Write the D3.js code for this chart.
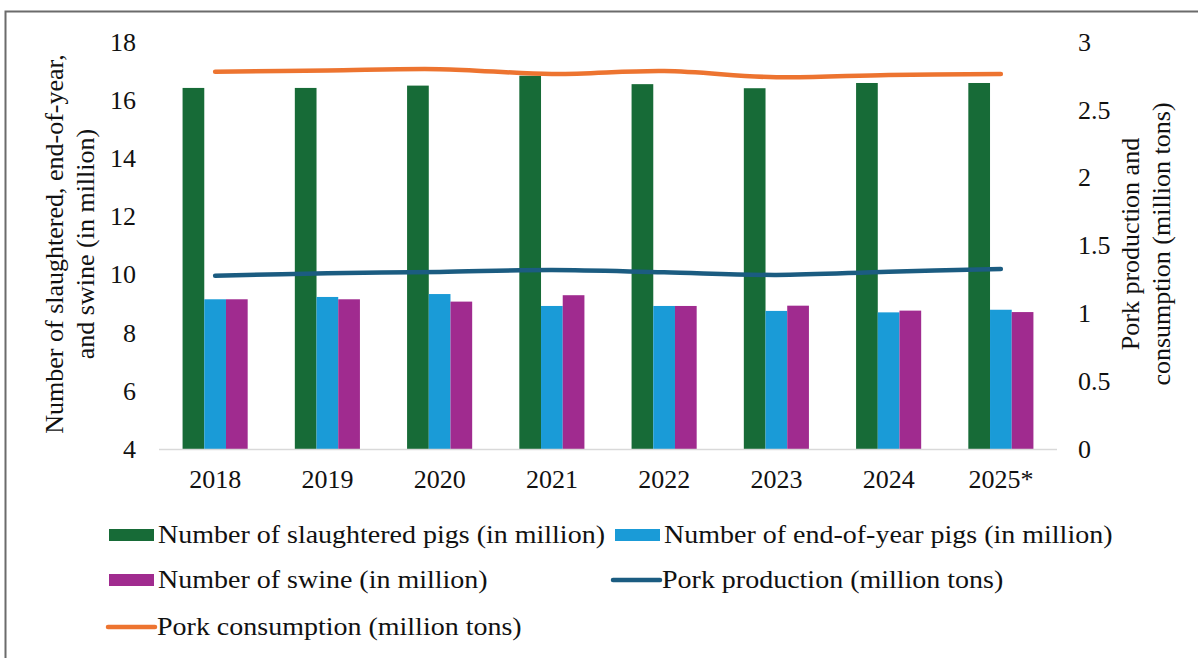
<!DOCTYPE html>
<html>
<head>
<meta charset="utf-8">
<script src="https://cdn.jsdelivr.net/npm/d3@7"></script>
<style>
  body { margin: 0; background: #fff; }
  text { font-family: "Liberation Serif", "Times New Roman", serif; fill: #111; }
</style>
</head>
<body>
<div id="chart"></div>
<script>
var years = ['2018', '2019', '2020', '2021', '2022', '2023', '2024', '2025*'];
var slaughtered = [16.42, 16.42, 16.5, 16.84, 16.55, 16.41, 16.59, 16.59];
var endOfYear = [9.15, 9.23, 9.33, 8.92, 8.92, 8.75, 8.70, 8.79];
var swine = [9.15, 9.15, 9.07, 9.29, 8.92, 8.93, 8.76, 8.71];
var production = [1.277, 1.295, 1.305, 1.319, 1.302, 1.283, 1.307, 1.327];
var consumption = [2.781, 2.79, 2.80, 2.764, 2.786, 2.74, 2.757, 2.764];
var leftTicks = [4, 6, 8, 10, 12, 14, 16, 18];
var rightTicks = [0, 0.5, 1, 1.5, 2, 2.5, 3];

var width = 1198, height = 658;
var plotLeft = 159, plotRight = 1057, plotTop = 42, plotBottom = 449;
var fontSize = 26;

var svg = d3.select('#chart').append('svg')
  .attr('width', width)
  .attr('height', height);

// outer frame (runs past the picture edge on right/bottom)
svg.append('rect')
  .attr('x', 5.5).attr('y', 11.5)
  .attr('width', 1300).attr('height', 800)
  .attr('fill', 'none')
  .attr('stroke', '#6b6b6b')
  .attr('stroke-width', 2);

var x0 = d3.scaleBand().domain(years).range([plotLeft, plotRight])
  .paddingInner(0.42).paddingOuter(0.21);
var bars = [
  { name: 'Number of slaughtered pigs (in million)', values: slaughtered, color: '#176b37' },
  { name: 'Number of end-of-year pigs (in million)', values: endOfYear, color: '#1a9bd7' },
  { name: 'Number of swine (in million)', values: swine, color: '#a02b8f' }
];
var x1 = d3.scaleBand().domain(d3.range(bars.length)).range([0, x0.bandwidth()]);
var yL = d3.scaleLinear().domain([4, 18]).range([plotBottom, plotTop]);
var yR = d3.scaleLinear().domain([0, 3]).range([plotBottom, plotTop]);

// bars
bars.forEach(function(s, si) {
  svg.append('g').selectAll('rect')
    .data(s.values)
    .enter()
    .append('rect')
    .attr('x', function(d, i) { return x0(years[i]) + x1(si); })
    .attr('width', x1.bandwidth())
    .attr('y', function(d) { return yL(d); })
    .attr('height', function(d) { return yL(4) - yL(d); })
    .attr('fill', s.color);
});

// baseline
svg.append('line')
  .attr('x1', plotLeft).attr('x2', plotRight)
  .attr('y1', plotBottom + 0.5).attr('y2', plotBottom + 0.5)
  .attr('stroke', '#d9d9d9').attr('stroke-width', 1.5);

// lines
var lines = [
  { name: 'Pork production (million tons)', values: production, color: '#1b5c81' },
  { name: 'Pork consumption (million tons)', values: consumption, color: '#ed7430' }
];
var line = d3.line()
  .x(function(d, i) { return x0(years[i]) + x0.bandwidth() / 2; })
  .y(function(d) { return yR(d); })
  .curve(d3.curveCatmullRom.alpha(0.5));
lines.forEach(function(s) {
  svg.append('path')
    .attr('d', line(s.values))
    .attr('fill', 'none')
    .attr('stroke', s.color)
    .attr('stroke-width', 4.5)
    .attr('stroke-linecap', 'round');
});

function styleTicks(g) {
  g.select('.domain').remove();
  g.selectAll('text')
    .style('font-size', fontSize + 'px')
    .style('font-family', '"Liberation Serif", "Times New Roman", serif')
    .attr('fill', '#111');
}

// left axis
svg.append('g')
  .attr('transform', 'translate(' + plotLeft + ',0)')
  .call(d3.axisLeft(yL).tickValues(leftTicks).tickSize(0).tickPadding(23))
  .call(styleTicks);

// right axis
svg.append('g')
  .attr('transform', 'translate(' + plotRight + ',0)')
  .call(d3.axisRight(yR).tickValues(rightTicks).tickSize(0).tickPadding(21)
    .tickFormat(function(d) { return String(d); }))
  .call(styleTicks);

// x axis labels
svg.append('g')
  .attr('transform', 'translate(0,' + plotBottom + ')')
  .call(d3.axisBottom(x0).tickSize(0).tickPadding(21))
  .call(styleTicks);

// axis titles
var tl = svg.append('text')
  .attr('transform', 'translate(63,244) rotate(-90)')
  .attr('text-anchor', 'middle')
  .style('font-size', fontSize + 'px');
tl.append('tspan').attr('x', 0).attr('dy', 0).text('Number of slaughtered, end-of-year,');
tl.append('tspan').attr('x', 0).attr('dy', 31).text('and swine (in million)');

var tr = svg.append('text')
  .attr('transform', 'translate(1139,244) rotate(-90)')
  .attr('text-anchor', 'middle')
  .style('font-size', fontSize + 'px');
tr.append('tspan').attr('x', 0).attr('dy', 0).text('Pork production and');
tr.append('tspan').attr('x', 0).attr('dy', 31).text('consumption (million tons)');

// legend
var legendItems = [
  { name: bars[0].name, color: bars[0].color, type: 'rect', x: 109, y: 535 },
  { name: bars[1].name, color: bars[1].color, type: 'rect', x: 615, y: 535 },
  { name: bars[2].name, color: bars[2].color, type: 'rect', x: 109, y: 580 },
  { name: lines[0].name, color: lines[0].color, type: 'line', x: 613, y: 580 },
  { name: lines[1].name, color: lines[1].color, type: 'line', x: 108, y: 627 }
];
var legend = svg.selectAll('.legend')
  .data(legendItems)
  .enter()
  .append('g')
  .attr('class', 'legend')
  .attr('transform', function(d) { return 'translate(' + d.x + ',' + d.y + ')'; });
legend.each(function(d) {
  var g = d3.select(this);
  if (d.type === 'rect') {
    g.append('rect').attr('x', 0).attr('y', -6).attr('width', 45).attr('height', 12).attr('fill', d.color);
  } else {
    g.append('line').attr('x1', 0).attr('x2', 47).attr('y1', 0).attr('y2', 0)
      .attr('stroke', d.color).attr('stroke-width', 4.5).attr('stroke-linecap', 'round');
  }
  g.append('text')
    .attr('transform', 'translate(49,8) scale(1.12,1)')
    .style('font-size', '25px')
    .text(d.name);
});
</script>
</body>
</html>
